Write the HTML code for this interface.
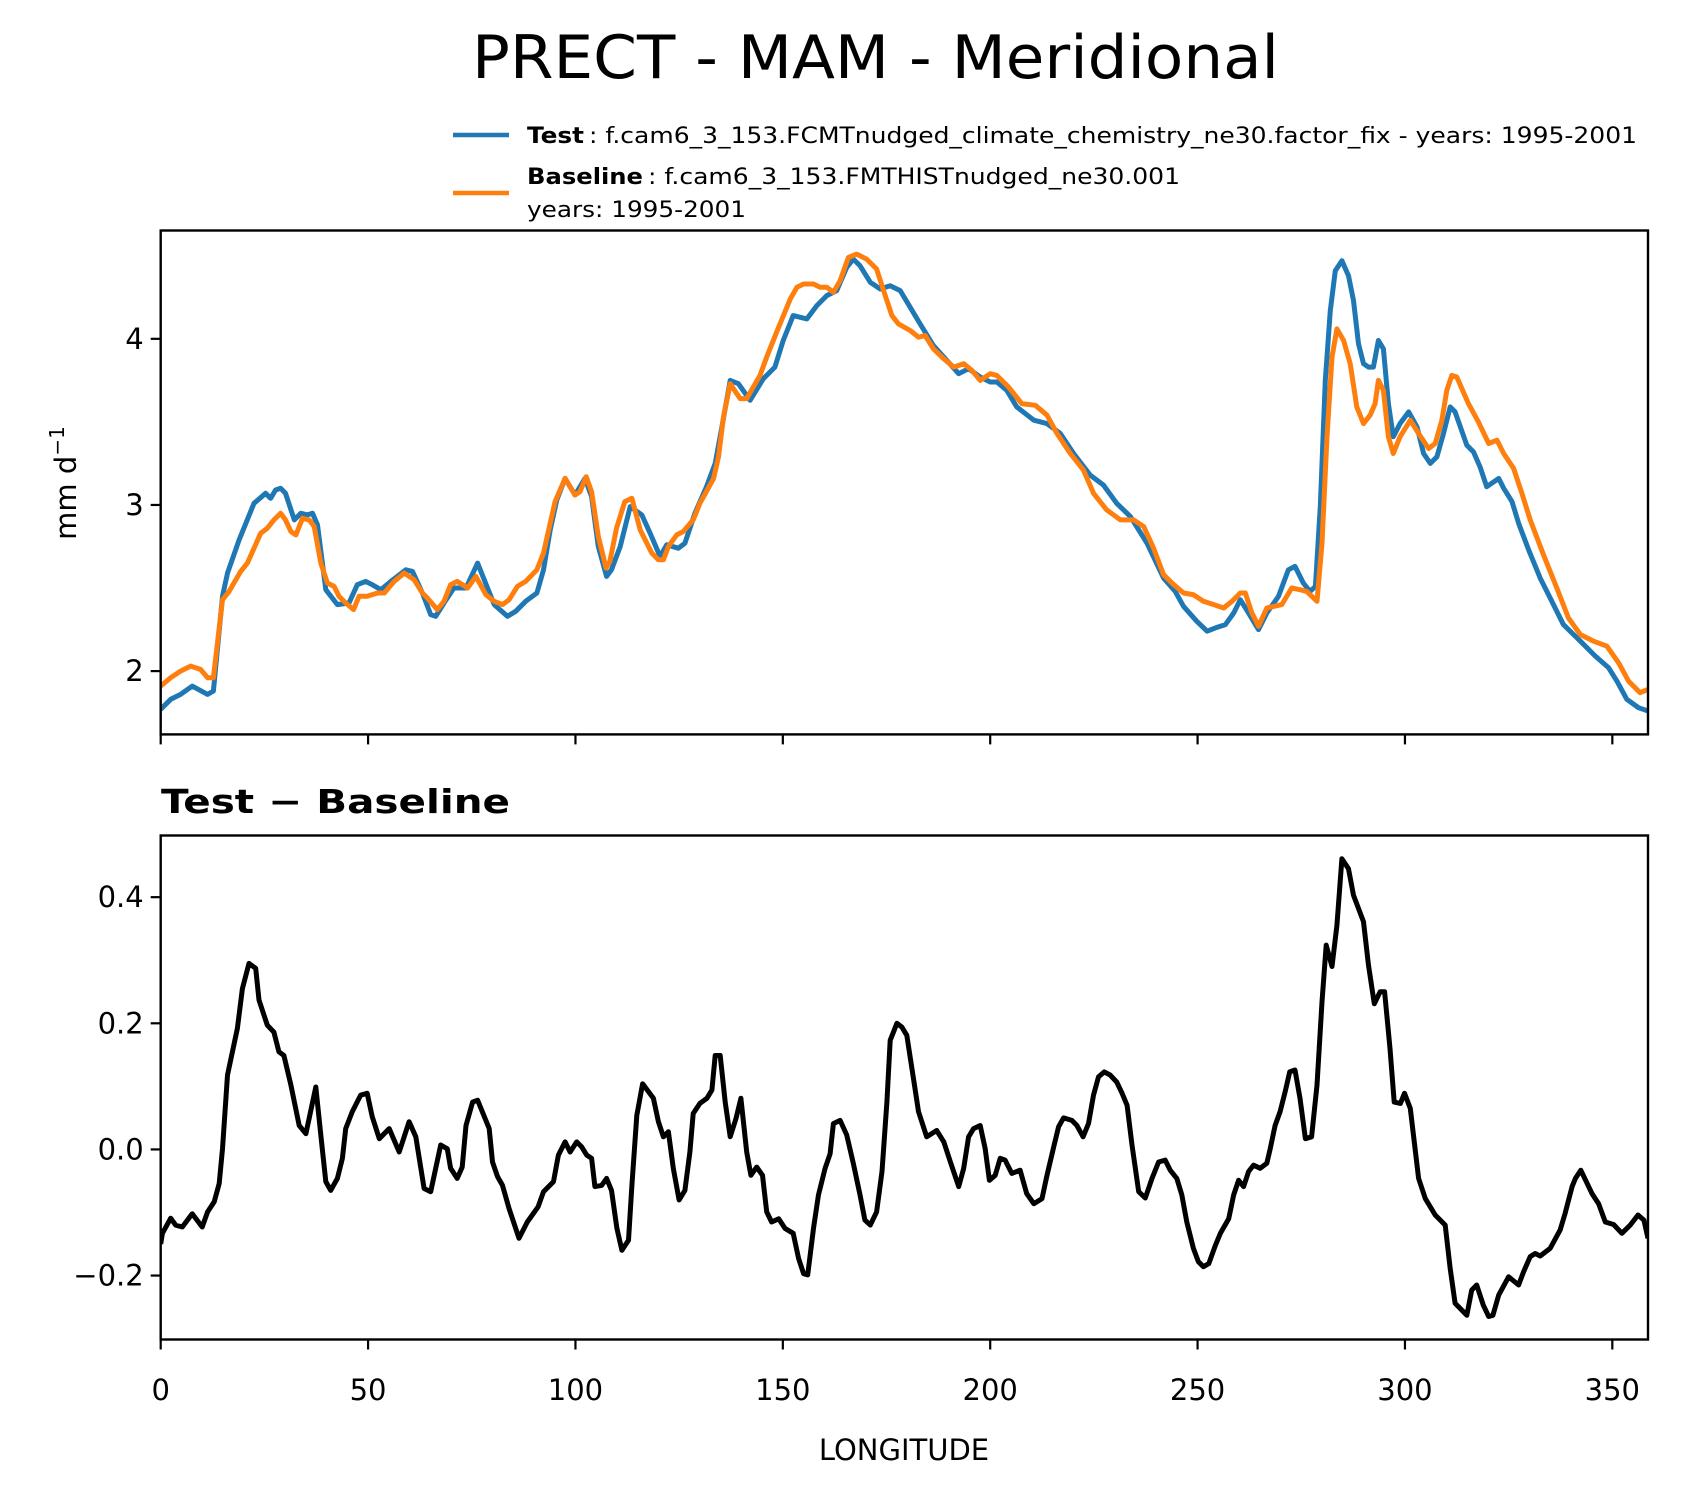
<!DOCTYPE html>
<html><head><meta charset="utf-8"><title>PRECT - MAM - Meridional</title>
<style>
html,body{margin:0;padding:0;background:#fff;}
svg{display:block;font-family:"DejaVu Sans","Liberation Sans",sans-serif;}
</style></head>
<body>
<svg id="chart" width="1681" height="1496" viewBox="0 0 1681 1496" xmlns="http://www.w3.org/2000/svg">
<rect width="1681" height="1496" fill="#fff"/>
<text x="472" y="78" font-size="60" textLength="807" lengthAdjust="spacingAndGlyphs">PRECT - MAM - Meridional</text>
<g>
<line x1="453" y1="135" x2="509" y2="135" stroke="#1f77b4" stroke-width="4.5"/>
<line x1="453" y1="193" x2="509" y2="193" stroke="#ff7f0e" stroke-width="4.5"/>
<text x="527" y="143" font-size="22" font-weight="bold" textLength="57" lengthAdjust="spacingAndGlyphs">Test</text>
<text x="589" y="143" font-size="22" textLength="1048" lengthAdjust="spacingAndGlyphs">: f.cam6_3_153.FCMTnudged_climate_chemistry_ne30.factor_fix - years: 1995-2001</text>
<text x="527" y="184" font-size="22" font-weight="bold" textLength="116" lengthAdjust="spacingAndGlyphs">Baseline</text>
<text x="648" y="184" font-size="22" textLength="532" lengthAdjust="spacingAndGlyphs">: f.cam6_3_153.FMTHISTnudged_ne30.001</text>
<text x="527" y="217" font-size="22" textLength="219" lengthAdjust="spacingAndGlyphs">years: 1995-2001</text>
</g>
<text transform="translate(76,483) rotate(-90)" text-anchor="middle" font-size="29">mm d<tspan font-size="20" dy="-12">−1</tspan></text>
<text x="161" y="813" font-size="33" font-weight="bold" textLength="349" lengthAdjust="spacingAndGlyphs">Test − Baseline</text>
<text x="904" y="1460" text-anchor="middle" font-size="29">LONGITUDE</text>
<g id="top"></g>
<g id="bot"></g>
</svg>
<script>
const lonTest=[0,2.4,4.8,7.6,11.3,12.7,14.9,16.1,18.9,22.5,25.3,26.5,27.7,28.9,30.1,32.2,33.8,35.4,36.6,37.8,39.8,42.6,45.4,47.4,49.4,51,53.1,55.5,59.1,60.7,63.1,65.1,66.3,68.3,70.7,73.6,76.4,78,80.4,83.6,85.6,88,90.7,92.3,93.9,95.5,97.5,99.9,102.3,103.9,105.5,107.5,108.7,110.8,113.2,116,118,120.4,122,124.8,126.4,128.8,131.6,133.7,135.3,137.3,139.3,142.1,145.3,148.1,150.1,152.5,155.8,158.2,160.6,163,165.4,167,168.6,171.1,173.5,175.9,178.3,180.7,183.1,186.3,188.8,192.4,194.8,197.6,200,201.6,204,206.4,210.5,213.7,216.9,220.1,224.1,227.3,230.5,233.8,237.8,241.8,244.6,246.6,249.8,252.3,254.3,256.7,258.7,260.3,262.3,264.7,266.7,269.5,271.9,273.5,275.5,277.1,278.4,279.6,280.8,282,283.2,284.8,286.4,287.6,288.8,290,291.2,292.4,293.6,294.8,296,297.2,298.8,300.9,302.9,304.5,306.1,307.7,309.3,310.9,312.1,314.9,316.5,318.1,319.7,322.6,323.8,325.8,327.4,329.8,332.6,335.4,338.2,342.3,345.9,349.1,351.1,353.5,356.3,358.6];
const valTest=[1.77,1.83,1.86,1.91,1.86,1.88,2.45,2.59,2.79,3.01,3.07,3.04,3.09,3.10,3.07,2.91,2.95,2.94,2.95,2.88,2.49,2.40,2.41,2.52,2.54,2.52,2.49,2.54,2.61,2.60,2.47,2.34,2.33,2.41,2.50,2.50,2.65,2.55,2.40,2.33,2.36,2.42,2.47,2.61,2.85,3.03,3.16,3.06,3.16,3.05,2.75,2.57,2.61,2.75,2.99,2.94,2.83,2.69,2.76,2.74,2.77,2.95,3.11,3.25,3.47,3.75,3.73,3.63,3.76,3.83,3.99,4.14,4.12,4.20,4.26,4.29,4.43,4.48,4.44,4.34,4.30,4.32,4.29,4.19,4.09,3.96,3.89,3.79,3.82,3.77,3.74,3.74,3.69,3.59,3.51,3.49,3.43,3.31,3.18,3.12,3.01,2.93,2.77,2.56,2.48,2.39,2.30,2.24,2.26,2.28,2.35,2.43,2.35,2.25,2.35,2.45,2.61,2.63,2.53,2.48,2.51,2.99,3.75,4.17,4.41,4.47,4.38,4.23,3.97,3.85,3.83,3.83,3.99,3.94,3.61,3.41,3.49,3.56,3.47,3.31,3.25,3.29,3.43,3.59,3.56,3.36,3.32,3.23,3.11,3.16,3.10,3.02,2.89,2.73,2.56,2.42,2.28,2.18,2.09,2.02,1.94,1.83,1.78,1.76];
const lonBase=[0,2.4,4.8,7.2,9.6,11.3,12.7,14.9,16.5,19.3,20.9,24.1,25.7,27.3,28.9,30.1,31.4,32.6,34.2,35.8,37,38.6,40.2,41.8,43,44.6,46.5,47.8,49.8,52.3,53.9,56.3,58.7,61.1,63.1,64.3,66.7,68.3,69.9,71.5,74,76,78.4,80.4,82.4,84,86,88,90.7,92.3,93.9,95.1,97.5,99.9,101.1,102.6,103.9,105.5,107.4,108.3,109.9,111.9,113.6,115.6,118.4,120,121.2,122.4,124.4,126,128.4,130,133.3,134.5,135.7,137.3,139.7,141.3,144.5,146.1,148.5,151.8,153.4,155,157.4,159,160.6,162.2,163.8,165.8,167.8,170.2,172.6,174.3,176.3,177.9,180.7,182.7,184.3,186.3,188.8,191.2,193.6,195.6,197.6,200,201.6,204.4,207.6,210.9,213.7,216.1,219.3,222.5,224.9,228.1,231.4,234.6,237,239.4,241.8,243.8,246.6,249,251.4,253.9,256.3,258.3,260.3,261.5,263.1,264.7,266.7,270.3,272.7,274.7,276.3,278.8,280,281.2,282.4,283.6,285.2,286.8,288.4,290,291.6,292.8,293.6,294.8,296,297.2,298.8,301.3,303.3,305.7,307.3,308.9,310.1,311.3,312.5,315.3,317.7,320.2,322.2,323.8,326.2,328.2,330.2,333.4,336.6,339.4,342.3,345.5,348.7,351.5,353.9,356.7,358.6];
const valBase=[1.91,1.96,2.00,2.03,2.01,1.96,1.96,2.43,2.48,2.60,2.65,2.83,2.86,2.91,2.95,2.91,2.84,2.82,2.92,2.91,2.87,2.65,2.53,2.51,2.45,2.41,2.37,2.45,2.45,2.47,2.47,2.54,2.59,2.55,2.47,2.44,2.37,2.42,2.52,2.54,2.50,2.57,2.46,2.42,2.40,2.43,2.51,2.54,2.61,2.71,2.89,3.02,3.16,3.06,3.08,3.17,3.08,2.81,2.62,2.66,2.86,3.02,3.04,2.85,2.71,2.67,2.67,2.75,2.82,2.84,2.91,3.01,3.16,3.29,3.53,3.73,3.64,3.64,3.78,3.89,4.04,4.24,4.31,4.33,4.33,4.31,4.31,4.28,4.35,4.49,4.51,4.48,4.42,4.29,4.14,4.09,4.05,4.01,4.02,3.94,3.88,3.83,3.85,3.81,3.75,3.79,3.78,3.71,3.61,3.60,3.54,3.43,3.31,3.21,3.07,2.97,2.91,2.91,2.87,2.74,2.58,2.53,2.47,2.46,2.42,2.40,2.38,2.42,2.47,2.47,2.35,2.27,2.38,2.40,2.50,2.49,2.48,2.42,2.77,3.41,3.89,4.06,3.99,3.85,3.59,3.49,3.54,3.61,3.75,3.69,3.41,3.31,3.41,3.51,3.43,3.34,3.37,3.51,3.69,3.78,3.77,3.61,3.50,3.37,3.39,3.31,3.22,3.07,2.91,2.70,2.50,2.32,2.22,2.18,2.15,2.05,1.94,1.87,1.89];
const lonDiff=[0,0.4,2.4,3.6,5.2,7.6,10,11.3,12.9,14.1,14.9,16.1,18.5,19.7,21.3,22.9,23.7,25.7,27.3,28.5,29.7,31.4,33.4,35,37.4,38.6,39.8,41,42.6,43.8,44.6,46.2,48.2,49.8,51,52.7,55.1,57.5,59.9,61.5,63.5,65.1,67.5,69.1,69.9,71.5,72.7,73.6,75.2,76.4,79.2,80,81.2,82.4,84,86.4,88.4,91,92.3,94.7,95.9,97.5,98.7,100.3,101.5,102.7,103.9,104.7,106.3,107.5,108.7,110,111.2,112.8,113.6,114.8,116.2,118.8,120,121.2,122.4,123.6,125,126.4,127.6,128.4,130,131.7,132.9,133.7,134.9,136.1,137.3,138.7,139.9,141.3,142.3,143.7,145.1,146.1,147.3,149,150.5,152.5,153.8,155,156,157.4,158.6,160.2,161.4,162.2,163.8,165.4,167,168.6,169.8,171.1,172.6,173.9,175.1,175.9,177.5,178.7,179.9,181.5,182.7,184.7,187.1,188.8,190.4,192.4,193.6,194.8,196,197.6,198.8,199.8,201.2,202.4,203.6,205.2,207.2,208.8,210.5,212.5,213.7,215.3,216.5,217.7,219.7,220.9,222.4,223.7,224.9,226.1,227.5,228.9,230.5,231.8,233,234.2,235.8,237.4,239,240.6,242.2,243.4,245,246.2,247.4,249,250.2,251.4,252.7,254.3,255.5,257.5,258.7,259.9,261.1,262.3,263.5,265.1,266.7,267.5,268.7,269.9,271.1,272.2,273.5,274.7,276,277.5,278.8,280,281,282.4,283.6,284.8,286.4,287.6,290,291.2,292.6,294,295.1,296.4,297.4,298.9,299.9,301.3,303.3,304.9,307.3,309.7,310.9,312.1,314.9,316.1,317.3,318.9,320.2,321.2,322.6,325,327.4,328.6,330.2,331.4,332.6,335,337.4,338.6,340.3,341.1,342.4,345.1,346.7,348.3,350.3,352.3,354.3,356.2,357.6,358.6];
const valDiff=[-0.15,-0.133,-0.109,-0.12,-0.123,-0.102,-0.123,-0.099,-0.083,-0.054,0.001,0.118,0.192,0.255,0.295,0.287,0.237,0.197,0.186,0.155,0.149,0.102,0.038,0.025,0.099,0.023,-0.051,-0.065,-0.046,-0.014,0.033,0.06,0.086,0.089,0.052,0.017,0.033,-0.004,0.044,0.02,-0.062,-0.067,0.007,0.001,-0.03,-0.046,-0.028,0.038,0.075,0.078,0.033,-0.02,-0.043,-0.057,-0.094,-0.141,-0.115,-0.091,-0.067,-0.051,-0.009,0.012,-0.004,0.012,0.004,-0.009,-0.014,-0.059,-0.057,-0.046,-0.065,-0.125,-0.16,-0.144,-0.057,0.054,0.104,0.081,0.044,0.02,0.028,-0.03,-0.08,-0.065,-0.004,0.057,0.073,0.081,0.094,0.149,0.149,0.075,0.02,0.049,0.081,-0.004,-0.041,-0.028,-0.041,-0.099,-0.115,-0.11,-0.125,-0.133,-0.173,-0.197,-0.199,-0.125,-0.072,-0.03,-0.007,0.041,0.046,0.023,-0.022,-0.072,-0.112,-0.12,-0.099,-0.035,0.075,0.173,0.2,0.194,0.181,0.112,0.06,0.02,0.03,0.012,-0.02,-0.059,-0.03,0.02,0.033,0.038,0.001,-0.049,-0.041,-0.014,-0.017,-0.038,-0.033,-0.07,-0.086,-0.078,-0.041,0.004,0.036,0.05,0.046,0.038,0.02,0.041,0.086,0.115,0.123,0.118,0.107,0.089,0.07,0.007,-0.067,-0.077,-0.046,-0.02,-0.017,-0.033,-0.046,-0.072,-0.115,-0.157,-0.178,-0.186,-0.181,-0.152,-0.133,-0.11,-0.072,-0.049,-0.059,-0.035,-0.025,-0.03,-0.022,0.001,0.038,0.06,0.091,0.123,0.126,0.081,0.017,0.02,0.102,0.234,0.324,0.29,0.355,0.461,0.445,0.403,0.361,0.292,0.231,0.25,0.25,0.16,0.075,0.073,0.089,0.065,-0.046,-0.078,-0.104,-0.12,-0.189,-0.244,-0.263,-0.223,-0.215,-0.247,-0.265,-0.263,-0.231,-0.202,-0.215,-0.194,-0.17,-0.165,-0.169,-0.157,-0.128,-0.102,-0.059,-0.046,-0.033,-0.07,-0.086,-0.115,-0.119,-0.133,-0.12,-0.104,-0.112,-0.141];
const xTicks=[0,50,100,150,200,250,300,350];
const xTickLabels=["0","50","100","150","200","250","300","350"];
const topTicks=[2,3,4];
const topTickLabels=["2","3","4"];
const botTicks=[-0.2,0,0.2,0.4];
const botTickLabels=["−0.2","0.0","0.2","0.4"];

const NS='http://www.w3.org/2000/svg';
const XL=160.7, XR=1648, XMIN=0, XMAX=358.6;
const xs=v=>XL+(v-XMIN)/(XMAX-XMIN)*(XR-XL);
const T={top:230.5,bot:734.4,min:1.619,max:4.652};
const B={top:835.5,bot:1339.5,min:-0.3014,max:0.4978};
const ys=(p,v)=>p.bot-(v-p.min)/(p.max-p.min)*(p.bot-p.top);
function mk(tag,attrs,parent){const e=document.createElementNS(NS,tag);for(const k in attrs)e.setAttribute(k,attrs[k]);parent.appendChild(e);return e;}
function line(p,lons,vals,color,name,g){
  let d='';
  for(let i=0;i<lons.length;i++){d+=(i?'L':'M')+xs(lons[i]).toFixed(1)+','+ys(p,vals[i]).toFixed(1);}
  const e=mk('path',{d:d,fill:'none',stroke:color,'stroke-width':5,'stroke-linejoin':'round'},g);
  
  
}
function axes(p,g,yt,ytl,showXLabels,prefix){
  const cp=mk('clipPath',{id:prefix+'clip'},g);
  mk('rect',{x:XL,y:p.top,width:XR-XL,height:p.bot-p.top},cp);
  for(let i=0;i<yt.length;i++){
    const y=ys(p,yt[i]);
    const t=mk('line',{x1:XL-10,y1:y,x2:XL,y2:y,stroke:'#000','stroke-width':2.2},g);
    
    
    const l=mk('text',{x:XL-17,y:y+10,'text-anchor':'end','font-size':29},g);
    l.textContent=ytl[i];
    
    
  }
  for(let i=0;i<xTicks.length;i++){
    const x=xs(xTicks[i]);
    const t=mk('line',{x1:x,y1:p.bot,x2:x,y2:p.bot+10,stroke:'#000','stroke-width':2.2},g);
    
    
    if(showXLabels){
      const l=mk('text',{x:x,y:1400,'text-anchor':'middle','font-size':29},g);
      l.textContent=xTickLabels[i];
      
      
    }
  }
}
function frame(p,g,prefix){
  const r=mk('rect',{x:XL,y:p.top,width:XR-XL,height:p.bot-p.top,fill:'none',stroke:'#000','stroke-width':2.4},g);
  
  
}
const gt=document.getElementById('top');


axes(T,gt,topTicks,topTickLabels,false,'top-');
const gtc=mk('g',{'clip-path':'url(#top-clip)'},gt);
line(T,lonTest,valTest,'#1f77b4','test-line',gtc);
line(T,lonBase,valBase,'#ff7f0e','baseline-line',gtc);
frame(T,gt,'top-');
const gb=document.getElementById('bot');


axes(B,gb,botTicks,botTickLabels,true,'bot-');
const gbc=mk('g',{'clip-path':'url(#bot-clip)'},gb);
line(B,lonDiff,valDiff,'#000','difference-line',gbc);
frame(B,gb,'bot-');
</script>
</body></html>
